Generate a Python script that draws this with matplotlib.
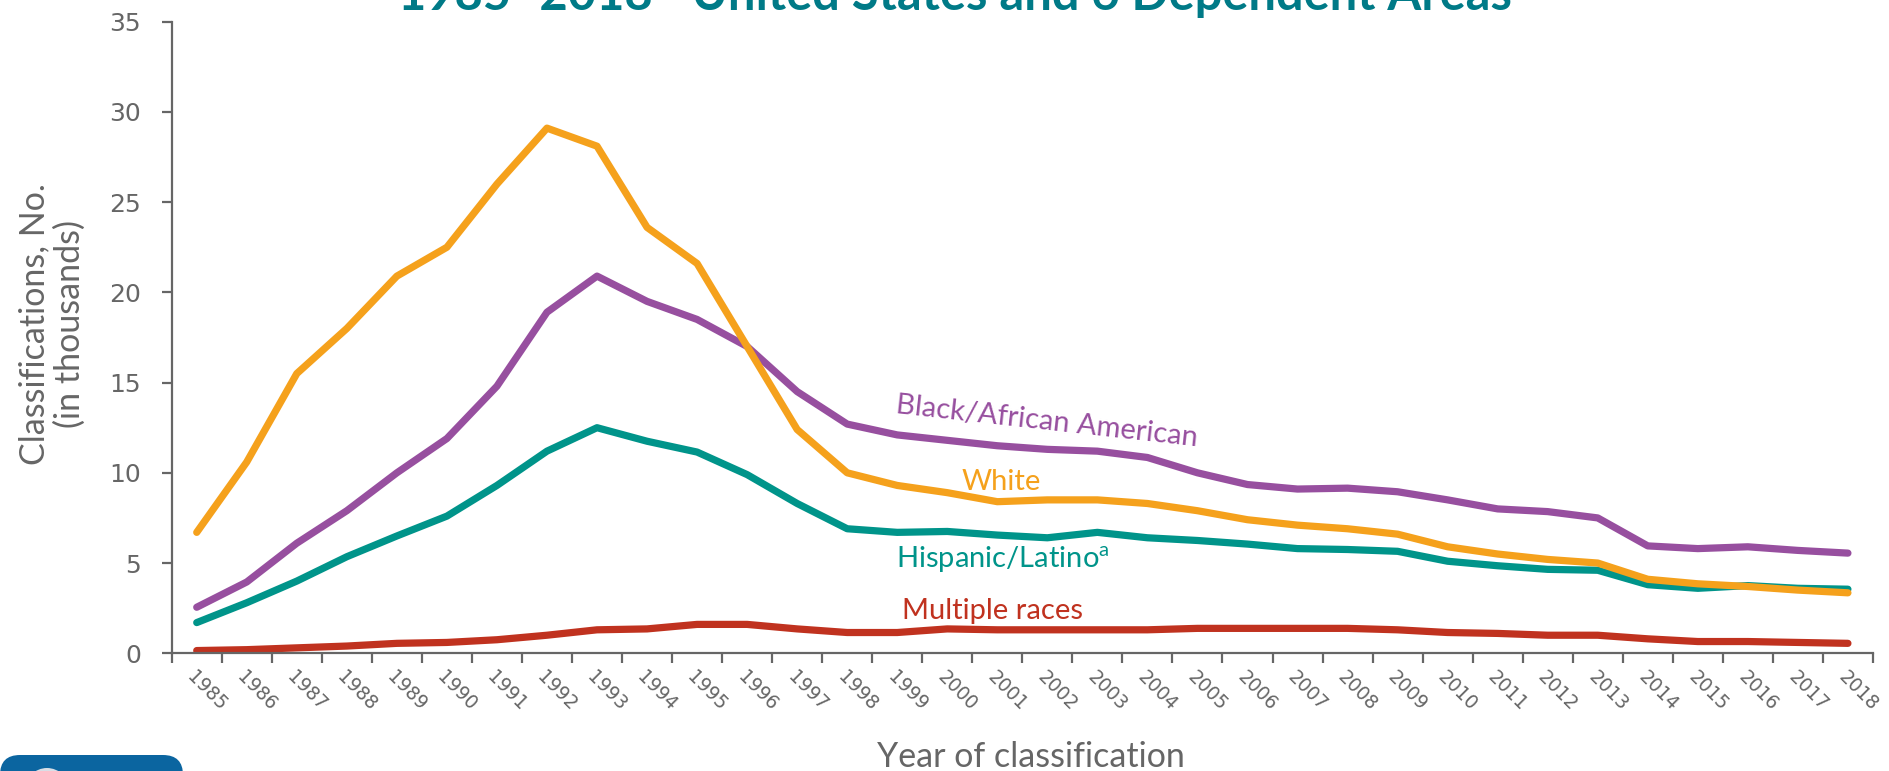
import numpy as np
import matplotlib
matplotlib.use('Agg')
import matplotlib.pyplot as plt
from matplotlib.patches import FancyBboxPatch, Circle


years = list(range(1985, 2019))

white = [6.7, 10.6, 15.5, 18.0, 20.9, 22.5, 26.0, 29.1, 28.1, 23.6,
         21.6, 17.0, 12.4, 10.0, 9.3, 8.9, 8.4, 8.5, 8.5, 8.3,
         7.9, 7.4, 7.1, 6.9, 6.6, 5.9, 5.5, 5.2, 5.0, 4.1,
         3.85, 3.7, 3.5, 3.35]

black = [2.55, 3.95, 6.1, 7.9, 10.0, 11.9, 14.8, 18.9, 20.9, 19.5,
         18.5, 17.0, 14.5, 12.7, 12.1, 11.8, 11.5, 11.3, 11.2, 10.85,
         10.0, 9.35, 9.1, 9.15, 8.95, 8.5, 8.0, 7.85, 7.5, 5.95,
         5.8, 5.9, 5.7, 5.55]

hispanic = [1.7, 2.8, 4.0, 5.35, 6.5, 7.6, 9.3, 11.2, 12.5, 11.75,
            11.15, 9.9, 8.3, 6.9, 6.7, 6.75, 6.55, 6.4, 6.7, 6.4,
            6.25, 6.05, 5.8, 5.75, 5.65, 5.1, 4.85, 4.65, 4.6, 3.8,
            3.6, 3.75, 3.6, 3.55]

multiple = [0.15, 0.2, 0.3, 0.4, 0.55, 0.6, 0.75, 1.0, 1.3, 1.35,
            1.6, 1.6, 1.35, 1.15, 1.15, 1.35, 1.3, 1.3, 1.3, 1.3,
            1.38, 1.38, 1.38, 1.38, 1.3, 1.15, 1.1, 1.0, 1.0, 0.8,
            0.65, 0.65, 0.6, 0.55]

c_white = '#F5A11C'
c_black = '#974F9F'
c_hisp = '#00948A'
c_multi = '#C0321F'
c_grey = '#666666'
c_title = '#007A87'

text_font = ['Lato', 'DejaVu Sans']

fig = plt.figure(figsize=(18.89, 7.71), dpi=100)
ax = fig.add_axes([0.0909, 0.1527, 0.9006, 0.8192])

x = np.arange(len(years))
lw = 5.2
kw = dict(linewidth=lw, solid_capstyle='round', solid_joinstyle='round')
ax.plot(x, multiple, color=c_multi, **kw)
ax.plot(x, hispanic, color=c_hisp, **kw)
ax.plot(x, black, color=c_black, **kw)
ax.plot(x, white, color=c_white, **kw)

ax.set_xlim(-0.5, len(years) - 0.5)
ax.set_ylim(0, 35)
ax.set_yticks(np.arange(0, 36, 5))

# category axis: tick marks between years, labels on the years
ax.set_xticks(np.arange(-0.5, len(years), 1.0))
ax.set_xticklabels([])
ax.set_xticks(x, minor=True)
ax.set_xticklabels([str(y) for y in years], minor=True, rotation=-45,
                   ha='left', va='top', rotation_mode='anchor')
ax.tick_params(axis='x', which='major', length=7, width=1.6, color=c_grey)
ax.tick_params(axis='x', which='minor', length=0, pad=10,
               labelsize=13.5, labelcolor=c_grey)
ax.tick_params(axis='y', length=7, width=1.6, color=c_grey, pad=15,
               labelsize=18, labelcolor=c_grey)

for s in ['top', 'right']:
    ax.spines[s].set_visible(False)
for s in ['left', 'bottom']:
    ax.spines[s].set_color(c_grey)
    ax.spines[s].set_linewidth(1.6)

# series labels
lab = dict(ha='center', va='center', fontsize=21, family=text_font)
ax.text(17.0, 12.85, 'Black/African American', color=c_black, rotation=-6.3, **lab)
ax.text(16.07, 9.5, 'White', color=c_white, **lab)
ax.text(16.1, 5.2, 'Hispanic/Latino$^{\\mathregular{a}}$', color=c_hisp, **lab)
ax.text(15.9, 2.35, 'Multiple races', color=c_multi, **lab)

# axis titles
fig.text(1031 / 1889, 1 - 757 / 771, 'Year of classification', ha='center', va='center',
         fontsize=24.5, color=c_grey, family=text_font)
fig.text(52 / 1889, 1 - 324 / 771, 'Classifications, No.\n(in thousands)',
         rotation=90, ha='center', va='center', multialignment='center',
         fontsize=24.5, color=c_grey, family=text_font, linespacing=1.1)

# title, cut off at top edge
fig.text(955 / 1889, 1 - 10 / 771,
         '1985\u20132018\u2014United States and 6 Dependent Areas',
         ha='center', va='baseline', fontsize=35.2, fontweight='bold',
         color=c_title, family=text_font)

# partial logo at bottom-left
logo = FancyBboxPatch((0, -40), 183, 56, boxstyle='round,pad=0,rounding_size=20',
                      transform=None, facecolor='#0B65A0', edgecolor='none')
fig.patches.append(logo)
fig.patches.append(Circle((47, -19), 22, transform=None,
                          facecolor='#D8DEE6', edgecolor='none'))

fig.savefig('out.png', dpi=100)
